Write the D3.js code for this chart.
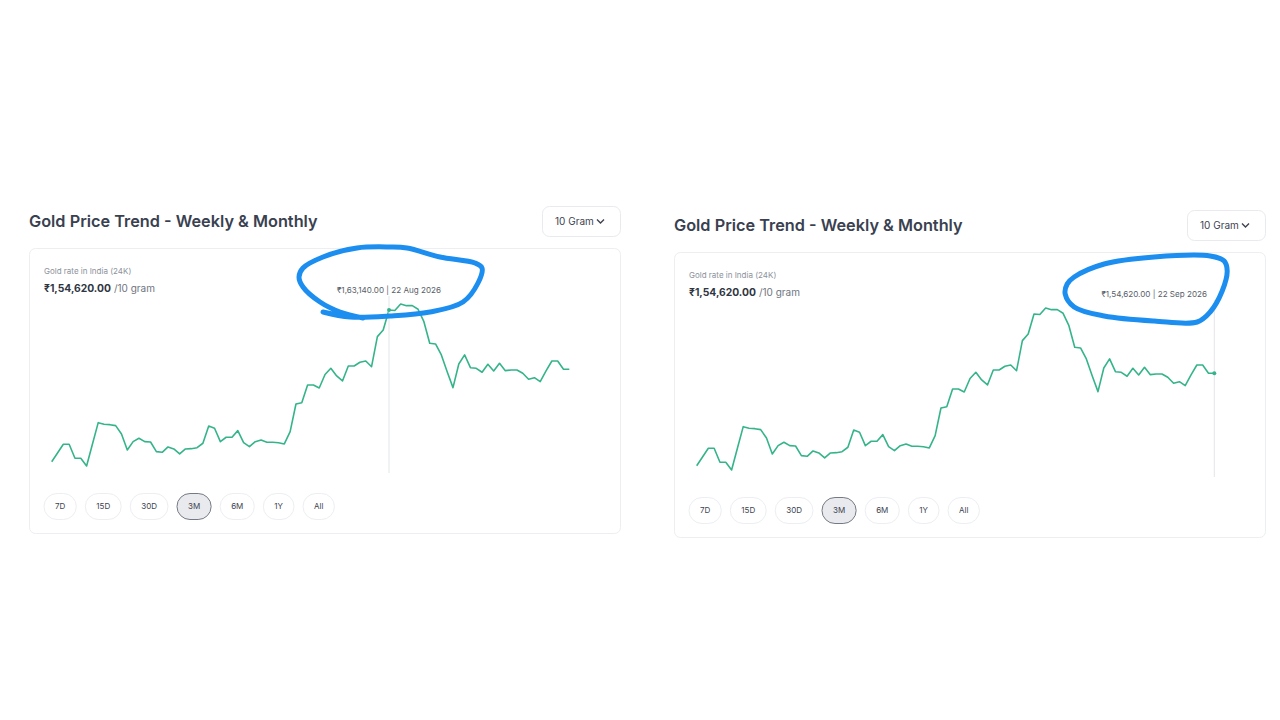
<!DOCTYPE html>
<html><head><meta charset="utf-8">
<script src="https://cdn.jsdelivr.net/npm/d3@7"></script>
<style>html,body{margin:0;background:#fff;} svg{display:block;font-family:Inter,"Noto Sans",sans-serif;}</style>
</head><body><svg id="c" width="1280" height="720"></svg>
<script>
// ---- data ----
const startDate = "2026-06-25";
const endDate = "2026-09-22";
const prices = [141340,142590,143840,143840,141830,141830,140720,143840,146950,146720,
146660,146520,145320,143020,144220,144710,144220,144170,142780,142690,
143460,143170,142450,143170,143210,143350,143990,146470,146140,144220,
144850,144850,145800,144070,143500,144220,144460,144130,144130,144070,
143890,145650,149630,149820,152360,152360,151930,153870,154760,153660,
152940,155090,155090,155630,155810,154990,159310,160270,163140,163060,
164000,163760,163760,163240,161460,158360,158260,156680,154280,151980,
155380,156680,154850,154760,154190,155340,154380,155480,154420,154520,
154520,154050,153180,153410,152840,154380,155810,155810,154620,154620];
const ranges = ["7D","15D","30D","3M","6M","1Y","All"];
const selectedRange = "3M";
const unitLabel = "10 Gram";
const titleText = "Gold Price Trend - Weekly & Monthly";
const subLabel = "Gold rate in India (24K)";
const currentPrice = 154620;
const hoverDates = ["2026-08-22","2026-09-22"];

// ---- helpers ----
const parse = d3.timeParse("%Y-%m-%d");
const dates = d3.timeDay.range(parse(startDate), d3.timeDay.offset(parse(endDate),1));
const series = dates.map((d,i)=>({date:d, value:prices[i]}));
function formatINR(v){
  const s = Math.round(v).toString();
  let last3 = s.slice(-3), rest = s.slice(0,-3);
  if(rest) rest = rest.replace(/\B(?=(\d{2})+(?!\d))/g, ",") + ",";
  return rest + last3 + ".00";
}
const fmtDate = d3.timeFormat("%d %b %Y");

const svg = d3.select("#c");
const GREEN = "#35b48b";
const x = d3.scaleTime().domain(d3.extent(dates)).range([51.7, 569.3]);
const y = d3.scaleLinear().domain(d3.extent(prices)).range([466, 304]);

function drawPanel(ox, oy, hoverDate, loopPts){
  const g = svg.append("g").attr("transform", `translate(${ox},${oy})`);
  g.append("text").attr("x",29).attr("y",227).attr("font-size",16.3).attr("font-weight",600)
    .attr("fill","#394150").text(titleText);
  // dropdown
  g.append("rect").attr("x",542.5).attr("y",206.5).attr("width",78).attr("height",30).attr("rx",7)
    .attr("fill","#fff").attr("stroke","#e8eaed");
  g.append("text").attr("x",555).attr("y",224.5).attr("font-size",10).attr("fill","#3d4350").text(unitLabel);
  g.append("path").attr("d","M597,219.5 L600.5,223 L604,219.5").attr("fill","none").attr("stroke","#3d4350").attr("stroke-width",1.4);
  // card
  g.append("rect").attr("x",29.5).attr("y",248.5).attr("width",591).attr("height",285).attr("rx",6)
    .attr("fill","#fff").attr("stroke","#eceef1");
  g.append("text").attr("x",44).attr("y",273.5).attr("font-size",8).attr("fill","#8d929b").text(subLabel);
  const pt = g.append("text").attr("x",44).attr("y",292);
  pt.append("tspan").attr("font-size",10.3).attr("font-weight",700).attr("fill","#2f3542").text("₹"+formatINR(currentPrice));
  pt.append("tspan").attr("font-size",10).attr("fill","#6f7580").attr("dx",3).text("/10 gram");

  // line
  g.append("path").datum(series).attr("fill","none").attr("stroke",GREEN).attr("stroke-width",1.6)
    .attr("stroke-linejoin","round")
    .attr("d", d3.line().x(d=>x(d.date)).y(d=>y(d.value)));

  // hover
  const hd = parse(hoverDate);
  const hp = series.find(d=>+d.date===+hd);
  const hx = x(hp.date);
  g.append("line").attr("x1",hx).attr("x2",hx).attr("y1",296).attr("y2",473).attr("stroke","#e3e5e8").attr("stroke-width",1);
  g.append("circle").attr("cx",hx).attr("cy",y(hp.value)).attr("r",2).attr("fill",GREEN);
  const tt = g.append("text").attr("y",293).attr("font-size",8.1).attr("fill","#585e69")
    .attr("text-anchor","middle").text("₹"+formatINR(hp.value)+" | "+fmtDate(hp.date));
  const tw = tt.node().getComputedTextLength();
  const tcx = Math.min(hx, 562 - tw/2);
  tt.attr("x", tcx);

  // range buttons
  let bx = 44;
  ranges.forEach(r=>{
    const bg = g.append("g");
    const t = bg.append("text").attr("y",509).attr("font-size",8).attr("fill","#3d4350").attr("text-anchor","middle").text(r);
    const w = t.node().getComputedTextLength() + 22;
    const sel = r===selectedRange;
    bg.insert("rect","text").attr("x",bx).attr("y",493.5).attr("width",w).attr("height",26).attr("rx",13)
      .attr("fill", sel?"#e9eaee":"#fff").attr("stroke", sel?"#747a85":"#eceef1").attr("stroke-width",1);
    t.attr("x", bx + w/2);
    bx += w + 9;
  });

  // hand-drawn annotation loop around the tooltip
  const ty = 290;
  g.append("path").datum(loopPts.pts)
    .attr("fill","none").attr("stroke","#1c8ef0").attr("stroke-width",5).attr("stroke-linecap","round")
    .attr("d", (loopPts.closed? d3.line().curve(d3.curveCatmullRomClosed) : d3.line().curve(d3.curveCatmullRom))
      .x(p=>tcx+p[0]).y(p=>ty+p[1]));
}

const loopLeft = {closed:false, pts:[[-66,22],[-39,27],[1,26],[41,22],[74,12],[89,-7],[93,-22],[86,-27],[51,-33],[18,-42],[1,-43],[-32,-42],[-66,-33],[-86,-22],[-90,-13],[-86,-3],[-69,12],[-49,22],[-26,28]]};
const loopRight = {closed:true, pts:[[-87,-10],[-80,-17],[-50,-30],[0,-37],[56,-38],[70,-33],[73,-23],[68,-3],[56,18],[43,28],[0,27],[-50,22],[-80,13],[-89,0]]};

drawPanel(0, 0, hoverDates[0], loopLeft);
drawPanel(645, 4, hoverDates[1], loopRight);
</script></body></html>
